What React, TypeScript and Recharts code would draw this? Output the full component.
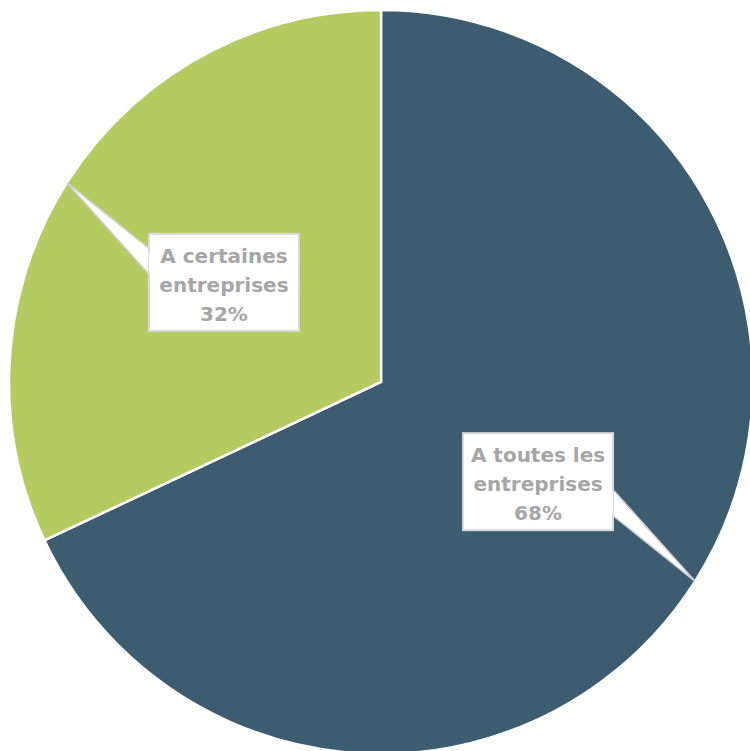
import React from "react";
import { PieChart, Pie, Cell } from "recharts";

const categories = ["A toutes les entreprises", "A certaines entreprises"];
const labelFirstLines = ["A toutes les", "A certaines"];
const labelSecondLines = ["entreprises", "entreprises"];
const values = [68, 32];
const colors = ["#3d5c6f", "#b5cb62"];

const data = categories.map((name, i) => ({ name, value: values[i], idx: i }));

const RAD = Math.PI / 180;

const renderLabel = (props: any) => {
  const { cx, cy, midAngle, outerRadius, percent, index } = props;
  const cos = Math.cos(-midAngle * RAD);
  const sin = Math.sin(-midAngle * RAD);
  const tipX = cx + outerRadius * cos;
  const tipY = cy + outerRadius * sin;
  const lr = outerRadius * 0.5;
  const bx = cx + lr * cos;
  const by = cy + lr * sin;
  const w = 150;
  const h = 97;
  const left = bx - w / 2;
  const top = by - h / 2;
  const edgeX = tipX < bx ? left : left + w;
  const baseC = by + (tipY < by ? -21 : 21);
  const pts = `${tipX},${tipY} ${edgeX},${baseC - 13} ${edgeX},${baseC + 13}`;
  const lines = [labelFirstLines[index], labelSecondLines[index], `${Math.round(percent * 100)}%`];
  return (
    <g key={`lbl-${index}`}>
      <polygon points={pts} fill="#ffffff" stroke="#d0d0d0" strokeWidth={1.5} />
      <rect x={left} y={top} width={w} height={h} fill="#ffffff" stroke="#d9d9d9" strokeWidth={2} />
      <polygon points={`${edgeX},${baseC - 12} ${edgeX},${baseC + 12} ${edgeX + (tipX < bx ? 3 : -3)},${baseC}`} fill="#ffffff" />
      {lines.map((t, i) => (
        <text
          key={i}
          x={bx}
          y={top + 29 + i * 29}
          textAnchor="middle"
          fill="#a6a6a6"
          fontFamily="'DejaVu Sans', sans-serif"
          fontWeight="bold"
          fontSize={20}
        >
          {t}
        </text>
      ))}
    </g>
  );
};

export default function App() {
  return (
    <div style={{ position: "absolute", left: 0, top: 0, width: 750, height: 751, background: "#ffffff", overflow: "hidden" }}>
      <PieChart width={800} height={800} margin={{ top: 0, right: 0, bottom: 0, left: 0 }}>
        <Pie
          data={data}
          dataKey="value"
          nameKey="name"
          cx={381}
          cy={382}
          outerRadius={372}
          startAngle={90}
          endAngle={-270}
          stroke="#ffffff"
          strokeWidth={2.5}
          label={renderLabel}
          labelLine={false}
          isAnimationActive={false}
        >
          {data.map((d, i) => (
            <Cell key={i} fill={colors[i]} />
          ))}
        </Pie>
      </PieChart>
    </div>
  );
}
